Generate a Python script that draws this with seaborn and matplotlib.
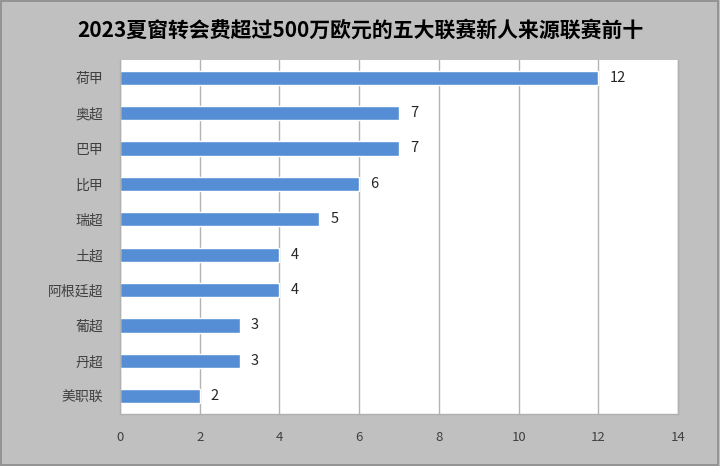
import matplotlib
matplotlib.use("Agg")
import matplotlib.pyplot as plt
import seaborn as sns
import pandas as pd
from matplotlib.patches import Rectangle

leagues = ["荷甲", "奥超", "巴甲", "比甲", "瑞超", "土超", "阿根廷超", "葡超", "丹超", "美职联"]
counts = [12, 7, 7, 6, 5, 4, 4, 3, 3, 2]
x_ticks = [0, 2, 4, 6, 8, 10, 12, 14]
title = "2023夏窗转会费超过500万欧元的五大联赛新人来源联赛前十"

sns.set_theme(style="white")
plt.rcParams['font.family'] = ['Noto Sans CJK SC', 'DejaVu Sans']

df = pd.DataFrame({"league": leagues, "count": counts})

fig = plt.figure(figsize=(7.2, 4.66), dpi=100)
fig.patch.set_facecolor("#c0c0c0")
fig.patches.append(Rectangle((0.002, 0.003), 0.995, 0.994, transform=fig.transFigure,
                             fill=False, edgecolor="#8c8c8c", linewidth=1.2))
ax = fig.add_axes([0.1667, 0.1116, 0.775, 0.7597])
ax.set_facecolor("white")

sns.barplot(data=df, y="league", x="count", orient="h", color="#558ed5",
            width=0.4, saturation=1, ax=ax)

ax.set_xlim(0, 14)
ax.set_xticks(x_ticks)
ax.set_xticklabels([str(t) for t in x_ticks], fontsize=9.5, color="#404040")
ax.xaxis.grid(True, color="#b3b3b3", linewidth=1)
ax.set_axisbelow(True)
ax.set_xlabel("")
ax.set_ylabel("")
ax.tick_params(axis="y", labelsize=10, colors="#404040", length=0, pad=12)
ax.tick_params(axis="x", length=0, pad=12)
for s in ["top"]:
    ax.spines[s].set_visible(False)
for s in ["left", "bottom", "right"]:
    ax.spines[s].set_color("#b0b0b0")
    ax.spines[s].set_linewidth(1)

for i, v in enumerate(counts):
    ax.annotate(str(v), xy=(v, i), xytext=(8, 0), textcoords="offset points",
                va="center", ha="left", fontsize=10.5, color="#262626")

fig.text(0.5, 0.935, title, ha="center", va="center", fontsize=15, fontweight="bold",
         color="#000000")

fig.savefig("out.png", dpi=100, facecolor=fig.get_facecolor())
